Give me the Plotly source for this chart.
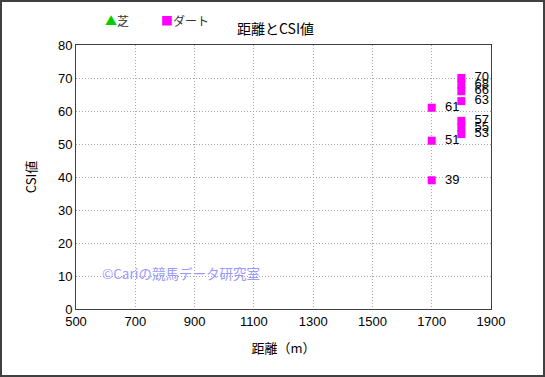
import plotly.graph_objects as go

# data
turf_dist = []
turf_csi = []
dirt_dist = [1700, 1700, 1700, 1800, 1800, 1800, 1800, 1800, 1800, 1800]
dirt_csi = [61, 51, 39, 70, 68, 66, 63, 57, 55, 53]

x_ticks = [500, 700, 900, 1100, 1300, 1500, 1700, 1900]
y_ticks = [0, 10, 20, 30, 40, 50, 60, 70, 80]

FONT = "Noto Sans CJK JP"
NUMFONT = "Liberation Sans, Noto Sans CJK JP"

fig = go.Figure()
fig.add_trace(go.Scatter(
    x=turf_dist, y=turf_csi, mode="markers+text", name="芝",
    marker=dict(symbol="triangle-up", color="#00cc00", size=9),
    showlegend=False))
fig.add_trace(go.Scatter(
    x=dirt_dist, y=dirt_csi, mode="markers+text", name="ダート",
    text=[str(v) for v in dirt_csi], texttemplate="  %{text}", textposition="middle right",
    textfont=dict(family=NUMFONT, size=13, color="black"),
    marker=dict(symbol="square", color="#ff00ff", size=8),
    showlegend=False, cliponaxis=False))

grid = dict(showgrid=True, gridcolor="#a8a8a8", griddash="1px,2px", gridwidth=1,
            showline=True, linecolor="#404040", linewidth=1, mirror=True,
            zeroline=False, ticks="", tickfont=dict(family=NUMFONT, size=13, color="black"))

fig.update_xaxes(range=[500, 1900], tickvals=x_ticks, **grid,
                 title=dict(text="距離（m）", font=dict(family=FONT, size=13, color="black"), standoff=16))
fig.update_yaxes(range=[0, 80], tickvals=y_ticks, **grid,
                 title=dict(text="CSI値", font=dict(family=FONT, size=13, color="black"), standoff=18))

fig.add_annotation(text="距離とCSI値", xref="paper", yref="paper", x=0.48, y=1.0,
                   yshift=29, showarrow=False, font=dict(family=FONT, size=14, color="black"))
fig.add_annotation(text="<span style='color:#00cc00'>▲</span>芝", xref="paper", yref="paper",
                   x=0.065, y=1.0, yshift=35, xanchor="left", showarrow=False,
                   font=dict(family=FONT, size=12, color="#333333"))
fig.add_annotation(text="<span style='color:#ff00ff'>■</span>ダート", xref="paper", yref="paper",
                   x=0.2, y=1.0, yshift=35, xanchor="left", showarrow=False,
                   font=dict(family=FONT, size=12, color="#333333"))
fig.add_annotation(text="©Cariの競馬データ研究室", x=580, y=11, xanchor="left",
                   showarrow=False, font=dict(family=FONT, size=13.5, color="#9999ff"))

W, H = 545, 377
ml, mr, mt, mb = 76, 54, 45, 68
pw, ph = W - ml - mr, H - mt - mb
fig.add_shape(type="rect", xref="paper", yref="paper",
              x0=-(ml - 1) / pw, x1=1 + (mr - 1) / pw,
              y0=-(mb - 1) / ph, y1=1 + (mt - 1) / ph,
              line=dict(color="#404040", width=2))

fig.update_layout(width=W, height=H, margin=dict(l=ml, r=mr, t=mt, b=mb),
                  paper_bgcolor="white", plot_bgcolor="white",
                  font=dict(family=FONT))
fig.write_html("out.html", config={"displayModeBar": False},
               post_script="document.body.style.margin='0';")
